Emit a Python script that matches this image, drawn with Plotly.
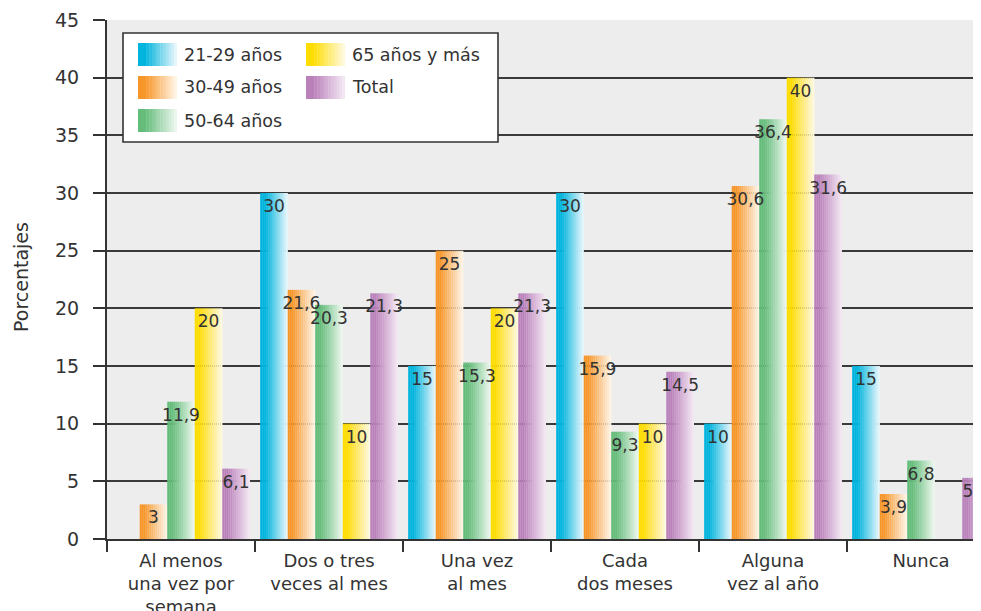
import plotly.graph_objects as go

# ---------------- data ----------------
categories = ["Al menos<br>una vez por<br>semana", "Dos o tres<br>veces al mes", "Una vez<br>al mes",
              "Cada<br>dos meses", "Alguna<br>vez al año", "Nunca"]
series_names = ["21-29 años", "30-49 años", "50-64 años", "65 años y más", "Total"]
v_21_29 = [None, 30, 15, 30, 10, 15]
v_30_49 = [3, 21.6, 25, 15.9, 30.6, 3.9]
v_50_64 = [11.9, 20.3, 15.3, 9.3, 36.4, 6.8]
v_65 = [20, 10, 20, 10, 40, None]
v_total = [6.1, 21.3, 21.3, 14.5, 31.6, 5.3]
y_ticks = [0, 5, 10, 15, 20, 25, 30, 35, 40, 45]

series_values = [v_21_29, v_30_49, v_50_64, v_65, v_total]

# ---------------- style ----------------
base_colors = [(0, 180, 221), (247, 150, 40), (100, 188, 122), (255, 221, 0), (186, 128, 186)]
end_colors = [(228, 245, 251), (255, 243, 228), (235, 246, 237), (255, 249, 220), (242, 230, 242)]
FONT = "DejaVu Sans"
TXT = "#333333"
N_SLICES = 14
GROUP = 0.93
W = GROUP / len(series_names)

OFF = 8                     # page body margin of the html page
WIDTH, HEIGHT = 981 - OFF, 611 - OFF
L, R, T, B = 107 - OFF, 0, 20 - OFF, 72
PW = WIDTH - L - R
PH = HEIGHT - T - B
CAT_PX = 148.0


def mix(c1, c2, f):
    return "rgb(%d,%d,%d)" % tuple(round(a + (b - a) * f) for a, b in zip(c1, c2))


def grad_f(t):
    f = (t - 0.15) / 0.85
    return max(0.0, min(1.0, f))


def fmt(v):
    return None if v is None else f"{v:g}".replace(".", ",")


# window pixel -> paper coordinates
def px_x(px):
    return (px - OFF - L) / PW


def px_y(py):
    return (HEIGHT - B - (py - OFF)) / PH


fig = go.Figure()

# gradient bars built from slices
for j, vals in enumerate(series_values):
    for k in range(N_SLICES):
        t = k / (N_SLICES - 1)
        fig.add_trace(go.Bar(
            x=categories, y=vals,
            offset=(j - 2.5) * W + k * W / N_SLICES,
            width=W / N_SLICES * 1.08,
            marker=dict(color=mix(base_colors[j], end_colors[j], grad_f(t)), line=dict(width=0)),
            showlegend=False, hoverinfo="skip",
        ))

# value labels (transparent full-width bars carrying the text)
for j, vals in enumerate(series_values):
    fig.add_trace(go.Bar(
        x=categories, y=vals, name=series_names[j],
        offset=(j - 2.5) * W, width=W,
        marker=dict(color="rgba(0,0,0,0)", line=dict(width=0)),
        text=[fmt(v) for v in vals],
        textposition="inside", insidetextanchor="end", textangle=0,
        constraintext="none", cliponaxis=False,
        insidetextfont=dict(family=FONT, size=17, color=TXT),
        showlegend=False,
        hovertemplate="%{x}<br>" + series_names[j] + ": %{y}<extra></extra>",
    ))

x_right = -0.5 + PW / CAT_PX

fig.update_layout(
    width=WIDTH, height=HEIGHT,
    margin=dict(l=L, r=R, t=T, b=B, pad=0, autoexpand=False),
    barmode="overlay",
    paper_bgcolor="white", plot_bgcolor="#EDEDED",
    font=dict(family=FONT, size=17, color=TXT),
    showlegend=False,
    xaxis=dict(
        type="category", range=[-0.5, x_right], tickson="boundaries",
        ticks="outside", ticklen=11, tickwidth=1.6, tickcolor="#333333",
        showline=True, linecolor="#333333", linewidth=2, ticklabelstandoff=4,
        showgrid=False, tickfont=dict(family=FONT, size=18, color=TXT),
    ),
    yaxis=dict(
        range=[0, 45], tickvals=y_ticks, ticks="outside", ticklen=12, tickwidth=1.6,
        tickcolor="#333333", showline=True, linecolor="#333333", linewidth=2,
        showgrid=True, gridcolor="#3a3a3a", gridwidth=1.6, zeroline=False,
        ticklabelstandoff=10,
        tickfont=dict(family=FONT, size=19, color=TXT),
    ),
)

# y-axis title
fig.add_annotation(text="Porcentajes", textangle=-90, xref="paper", yref="paper",
                   x=px_x(21), y=px_y(277), xanchor="center", yanchor="middle",
                   showarrow=False, font=dict(family=FONT, size=19, color=TXT))

# ---------------- legend (gradient swatches) ----------------
shapes = [dict(type="rect", xref="paper", yref="paper", layer="above",
               x0=px_x(123), x1=px_x(498), y0=px_y(142), y1=px_y(33),
               fillcolor="white", line=dict(color="#333333", width=1.6))]
legend_pos = [(138, 43), (138, 76), (138, 109), (306, 43), (306, 76)]
SW_W, SW_H = 39, 23
for j, (sx, sy) in enumerate(legend_pos):
    for k in range(N_SLICES):
        t = k / (N_SLICES - 1)
        x0 = sx + k * SW_W / N_SLICES
        x1 = sx + (k + 1) * SW_W / N_SLICES + 0.4
        shapes.append(dict(type="rect", xref="paper", yref="paper", layer="above",
                           x0=px_x(x0), x1=px_x(min(x1, sx + SW_W)), y0=px_y(sy + SW_H), y1=px_y(sy),
                           fillcolor=mix(base_colors[j], end_colors[j], grad_f(t)), line=dict(width=0)))
    fig.add_annotation(text=series_names[j], xref="paper", yref="paper",
                       x=px_x(sx + SW_W + 5), y=px_y(sy + SW_H / 2), xanchor="left", yanchor="middle",
                       showarrow=False, font=dict(family=FONT, size=17.5, color=TXT))
fig.update_layout(shapes=shapes)

fig.write_html("out.html")
